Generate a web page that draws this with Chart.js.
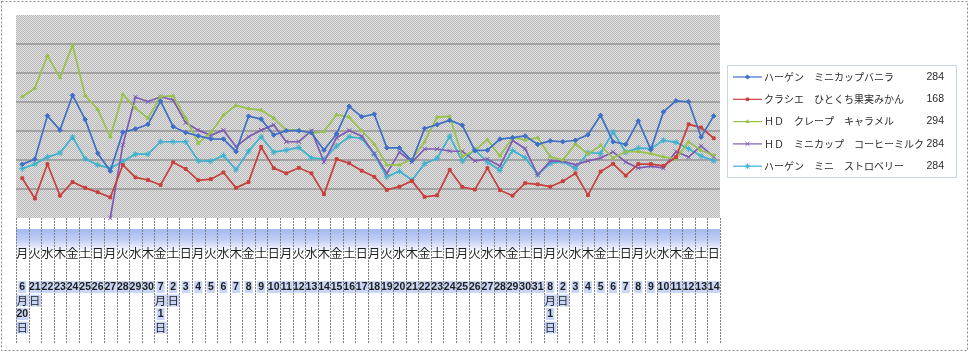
<!DOCTYPE html>
<html lang="ja">
<head>
<meta charset="utf-8">
<title>売上推移</title>
<script src="https://cdn.jsdelivr.net/npm/chart.js@4.4.1/dist/chart.umd.min.js"></script>
<style>
  html, body { margin: 0; padding: 0; background: #fff; }
  #wrap { width: 970px; height: 353px; }
</style>
</head>
<body>
<div id="wrap"><canvas id="salesChart" width="970" height="353"></canvas></div>
<script>
// categories (6/20 - 8/14)
const weekdays = [
  '月','火','水','木','金','土','日', '月','火','水','木','金','土','日',
  '月','火','水','木','金','土','日', '月','火','水','木','金','土','日',
  '月','火','水','木','金','土','日', '月','火','水','木','金','土','日',
  '月','火','水','木','金','土','日', '月','火','水','木','金','土','日'
];
const dateLabels = [
  ['6','月','20','日'], ['21','日'], '22','23','24','25','26','27','28','29','30',
  ['7','月','1','日'], ['2','日'], '3','4','5','6','7','8','9','10','11','12','13','14','15','16',
  '17','18','19','20','21','22','23','24','25','26','27','28','29','30','31',
  ['8','月','1','日'], ['2','日'], '3','4','5','6','7','8','9','10','11','12','13','14'
];

const seriesNames = [
  'ハーゲン　ミニカップバニラ',
  'クラシエ　ひとくち果実みかん',
  'ＨＤ　クレープ　キャラメル',
  'ＨＤ　ミニカップ　コーヒーミルク',
  'ハーゲン　ミニ　ストロベリー'
];
const seriesTotals = ['284', '168', '294', '284', '284'];

const vanilla = [18.5,20.3,35.3,30.3,42.3,34.0,22.3,16.2,29.6,30.7, 32.3,40.3,31.5,29.5,28.3,27.3,27.2,22.9,35.1,34.1,
  28.6,30.1,30.1,29.4,23.4,29.0,38.5,34.9,35.8,24.2, 24.2,19.7,30.9,32.2,33.7,32.0,23.2,23.4,27.2,27.7,
  28.3,25.4,26.6,26.3,26.8,28.7,35.4,26.3,25.4,33.5, 23.6,36.6,40.4,40.1,27.9,35.2];
const mikan = [13.7,6.7,18.6,7.7,12.4,10.4,8.9,7.1,18.3,14.0, 13.1,11.4,19.2,16.9,13.0,13.4,15.7,10.4,12.4,24.5,
  17.2,15.4,17.3,15.4,8.2,20.3,18.9,16.3,14.2,9.7, 10.8,12.8,7.3,7.8,16.6,10.7,9.8,17.2,9.6,7.7,
  12.0,11.6,10.8,12.7,15.4,7.9,16.0,18.7,14.6,18.6, 18.6,18.0,21.0,32.3,31.2,27.5];
const caramel = [41.8,44.8,56.0,48.4,59.6,42.2,37.4,28.0,42.6,37.9, 34.4,41.9,42.1,34.4,25.8,29.4,35.5,38.8,37.7,37.2,
  34.4,30.3,30.3,29.2,29.8,35.6,34.8,30.1,25.5,18.3, 18.3,20.3,26.3,34.8,35.0,21.3,23.3,27.0,21.4,27.8,
  26.9,27.7,21.1,20.0,25.5,22.1,25.0,20.6,22.9,22.9, 22.2,21.1,20.4,26.3,23.3,21.7];
const coffee = [null,null,null,null,null,null,null,0,25.2,41.7, 40.1,41.8,40.7,32.9,30.3,28.5,30.3,24.6,28.0,30.3,
  32.1,26.3,26.3,30.1,19.3,27.7,30.2,28.2,22.2,15.4, 22.7,19.3,23.8,23.8,23.1,23.0,19.7,20.3,17.9,26.7,
  23.9,14.8,19.7,19.6,18.3,19.7,20.7,22.8,19.3,17.2, 17.9,17.2,22.9,21.0,24.9,21.1];
const strawberry = [17.0,18.6,21.0,22.4,27.9,20.4,18.3,17.1,19.6,22.0, 22.0,26.3,26.3,26.3,19.7,19.6,21.6,16.6,23.1,28.0,
  22.7,23.4,24.3,20.7,20.3,24.8,28.0,27.5,21.9,14.2, 16.1,13.1,18.7,20.6,28.2,19.6,23.6,19.3,16.4,23.3,
  20.8,15.0,18.8,19.4,17.1,22.5,22.3,29.7,22.7,24.1, 23.9,26.8,26.1,23.9,21.4,19.7];

const yMin = 0, yMax = 70, yStep = 10;

const JP_FONT = '"Noto Sans CJK JP", "Noto Sans", sans-serif';

function makeSeries(label, data, color, style, radius) {
  return {
    label, data,
    borderColor: color,
    backgroundColor: color,
    borderWidth: 1.7,
    pointStyle: style,
    pointRadius: radius,
    pointBorderWidth: 1,
    pointBackgroundColor: color,
    pointBorderColor: color,
    tension: 0,
    spanGaps: false,
    clip: 6
  };
}

// dotted gray fill like the original plot area
function makeDotPattern(ctx) {
  const c = document.createElement('canvas');
  c.width = 2; c.height = 2;
  const p = c.getContext('2d');
  p.fillStyle = '#e2e2e2';
  p.fillRect(0, 0, 2, 2);
  p.fillStyle = '#b8b8b8';
  p.fillRect(0, 0, 1, 1);
  p.fillRect(1, 1, 1, 1);
  return ctx.createPattern(c, 'repeat');
}

const plotBackground = {
  id: 'plotBackground',
  beforeDraw(chart) {
    const { ctx, chartArea: a } = chart;
    ctx.save();
    ctx.fillStyle = makeDotPattern(ctx);
    ctx.fillRect(a.left, a.top, a.right - a.left, a.bottom - a.top);
    ctx.restore();
  }
};

// weekday / date table under the plot
const dateTable = {
  id: 'dateTable',
  afterDraw(chart) {
    const { ctx, chartArea: a, scales: { x } } = chart;
    const n = weekdays.length;
    const colW = (a.right - a.left) / n;
    const top = a.bottom, bottom = 343;
    ctx.save();

    const g = ctx.createLinearGradient(0, 229, 0, 252);
    g.addColorStop(0, '#a4b8ee');
    g.addColorStop(0.5, '#c3d0f6');
    g.addColorStop(1, '#ffffff');
    ctx.fillStyle = g;
    ctx.fillRect(a.left, 229, a.right - a.left, 23);

    // date highlight boxes
    ctx.font = '11px "Liberation Sans", sans-serif';
    ctx.textAlign = 'center';
    ctx.textBaseline = 'middle';
    for (let i = 0; i < n; i++) {
      const cx = x.getPixelForValue(i);
      const lines = [].concat(dateLabels[i]);
      lines.forEach((t, j) => {
        const y = 287 + j * 13.5;
        const w = Math.min(ctx.measureText(t).width + 2, colW);
        ctx.fillStyle = '#c9d6f5';
        ctx.fillRect(cx - w / 2, y - 6, w, 12);
      });
    }

    // column lines
    ctx.strokeStyle = '#808080';
    ctx.lineWidth = 1;
    ctx.setLineDash([2, 1]);
    for (let k = 0; k <= n; k++) {
      const lx = Math.round(a.left + k * colW) + 0.5;
      ctx.beginPath();
      ctx.moveTo(lx, top);
      ctx.lineTo(lx, bottom);
      ctx.stroke();
    }
    ctx.setLineDash([]);

    // weekday row
    ctx.fillStyle = '#1e1e1e';
    ctx.font = '12px ' + JP_FONT;
    for (let i = 0; i < n; i++) {
      ctx.fillText(weekdays[i], x.getPixelForValue(i), 253);
    }

    // date row
    for (let i = 0; i < n; i++) {
      const cx = x.getPixelForValue(i);
      const lines = [].concat(dateLabels[i]);
      lines.forEach((t, j) => {
        const y = 287 + j * 13.5;
        ctx.fillStyle = '#1e1e1e';
        if (/[月日]/.test(t)) {
          ctx.font = '11px ' + JP_FONT;
        } else {
          ctx.font = 'bold 10.5px "Liberation Sans Narrow", "Liberation Sans", sans-serif';
        }
        ctx.fillText(t, cx, y);
      });
    }

    // outer frame
    ctx.strokeStyle = '#8a8a8a';
    ctx.setLineDash([2, 2]);
    ctx.strokeRect(1.5, 1.5, 966, 349);
    ctx.restore();
  }
};

// legend box on the right
const sideLegend = {
  id: 'sideLegend',
  afterDraw(chart) {
    const { ctx } = chart;
    ctx.save();
    ctx.fillStyle = '#ffffff';
    ctx.fillRect(727, 65, 230, 113);
    ctx.strokeStyle = '#8eaadc';
    ctx.lineWidth = 1;
    ctx.setLineDash([1, 1]);
    ctx.strokeRect(727.5, 65.5, 229, 112);
    ctx.setLineDash([]);

    chart.data.datasets.forEach((ds, i) => {
      const y = 77 + i * 22.3;
      ctx.strokeStyle = ds.borderColor;
      ctx.lineWidth = 1.2;
      ctx.beginPath();
      ctx.moveTo(733, y);
      ctx.lineTo(762, y);
      ctx.stroke();
      ctx.fillStyle = ds.backgroundColor;
      ctx.lineWidth = 1;
      Chart.helpers.drawPoint(ctx, {
        pointStyle: ds.pointStyle, radius: ds.pointRadius * 0.9, rotation: 0, borderWidth: 1
      }, 747.5, y);

      ctx.fillStyle = '#2a2a2a';
      ctx.font = '10px ' + JP_FONT;
      ctx.textBaseline = 'middle';
      ctx.textAlign = 'left';
      ctx.fillText(ds.label, 764, y);
      ctx.textAlign = 'right';
      ctx.font = '10.5px "Liberation Sans", sans-serif';
      ctx.fillText(seriesTotals[i], 944, y);
    });
    ctx.restore();
  }
};

const ctx = document.getElementById('salesChart').getContext('2d');
new Chart(ctx, {
  type: 'line',
  data: {
    labels: weekdays.map((d, i) => i),
    datasets: [
      makeSeries(seriesNames[0], vanilla, '#3e70c8', 'rectRot', 2.3),
      makeSeries(seriesNames[1], mikan, '#c8413d', 'rect', 2),
      makeSeries(seriesNames[2], caramel, '#98c24c', 'triangle', 2),
      makeSeries(seriesNames[3], coffee, '#7e5cb4', 'crossRot', 3),
      makeSeries(seriesNames[4], strawberry, '#3cb2d0', 'star', 3)
    ]
  },
  options: {
    responsive: false,
    animation: false,
    devicePixelRatio: 1,
    layout: { padding: { left: 16, top: 15, right: 250, bottom: 135 } },
    plugins: {
      legend: { display: false },
      tooltip: { enabled: false }
    },
    scales: {
      x: {
        type: 'category',
        display: false,
        offset: true
      },
      y: {
        min: yMin,
        max: yMax,
        ticks: { display: false, stepSize: yStep },
        border: { display: false },
        grid: {
          drawTicks: false,
          lineWidth: 2,
          color: (c) => (c.tick && (c.tick.value === yMin || c.tick.value === yMax)) ? 'rgba(0,0,0,0)' : '#a2a2a2'
        }
      }
    }
  },
  plugins: [plotBackground, dateTable, sideLegend]
});
</script>
</body>
</html>
